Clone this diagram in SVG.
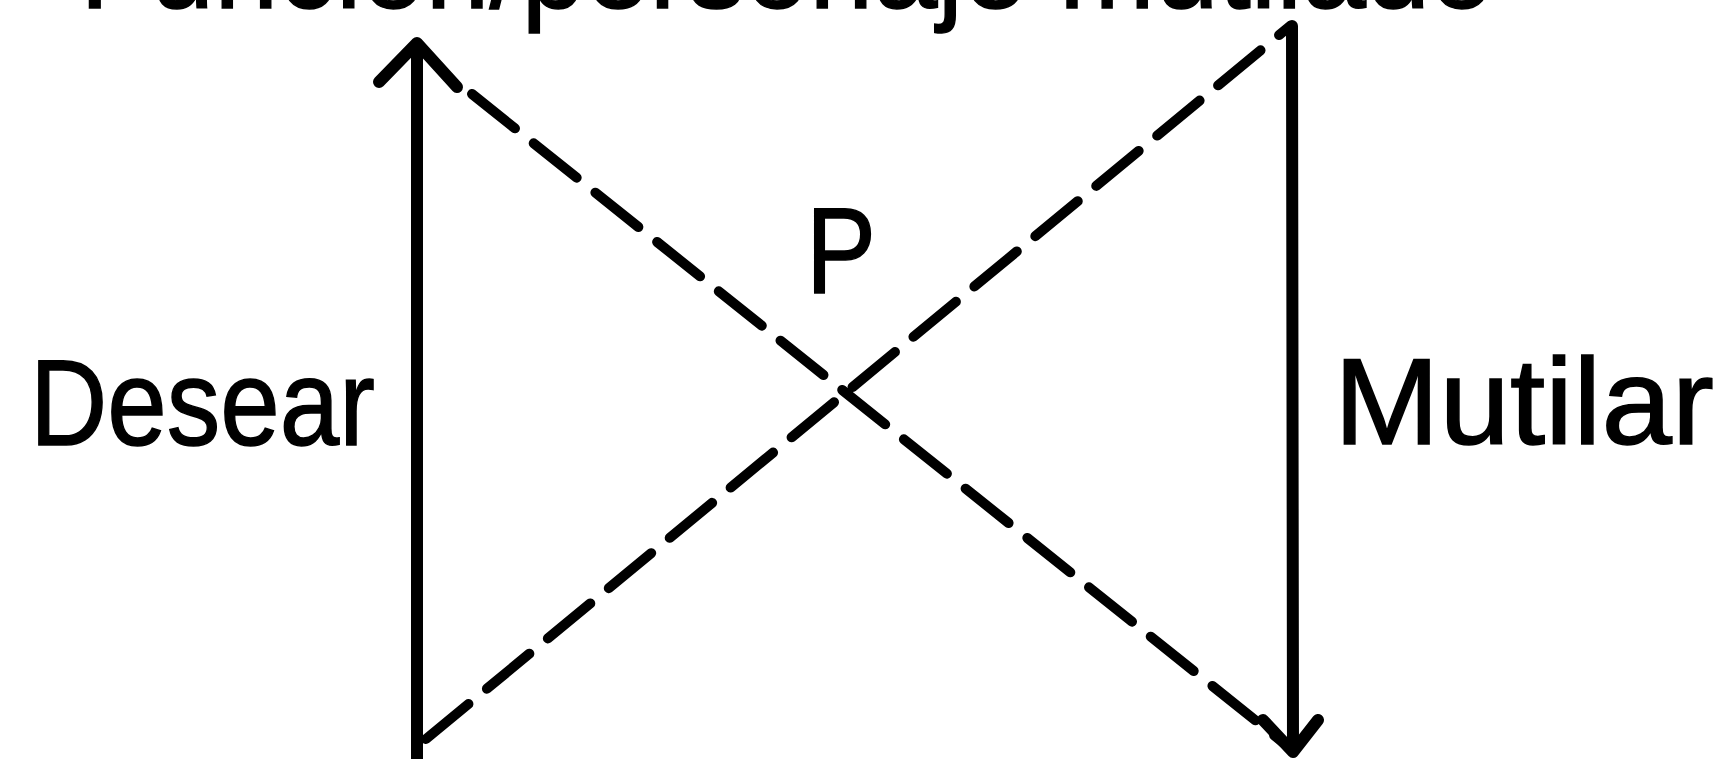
<svg xmlns="http://www.w3.org/2000/svg" width="1730" height="759" viewBox="0 0 1730 759">
<style>
.lbl{font-family:"Liberation Sans",Arial,sans-serif;font-size:123px;fill:#000;stroke:#000;stroke-width:1.5;}
.solid{fill:none;stroke:#000;stroke-width:12;stroke-linecap:round;stroke-linejoin:round;}
.dash{fill:none;stroke:#000;stroke-width:10;stroke-linecap:round;stroke-dasharray:55 24;}
</style>
<rect width="1730" height="759" fill="#fff"/>
<g id="title"><text class="lbl" x="80" y="8" textLength="1414" lengthAdjust="spacingAndGlyphs">Función/personaje mutilado</text></g>
<g id="desear"><text class="lbl" x="30" y="445" textLength="345" lengthAdjust="spacingAndGlyphs">Desear</text></g>
<g id="mutilar"><text class="lbl" x="1334" y="444" textLength="380" lengthAdjust="spacingAndGlyphs">Mutilar</text></g>
<g id="p"><text class="lbl" x="806" y="293" textLength="70" lengthAdjust="spacingAndGlyphs">P</text></g>
<g id="connectors">
<line class="solid" x1="417" y1="765" x2="417" y2="44"/>
<polyline class="solid" points="379,82 417,43 457,87"/>
<line class="solid" x1="1292" y1="26" x2="1293" y2="750"/>
<polyline class="solid" points="1263,720 1293,752 1318,720"/>
<line class="dash" x1="472" y1="94" x2="1290" y2="748"/>
<line class="dash" x1="426" y1="739" x2="1290" y2="26"/>
</g>
</svg>
